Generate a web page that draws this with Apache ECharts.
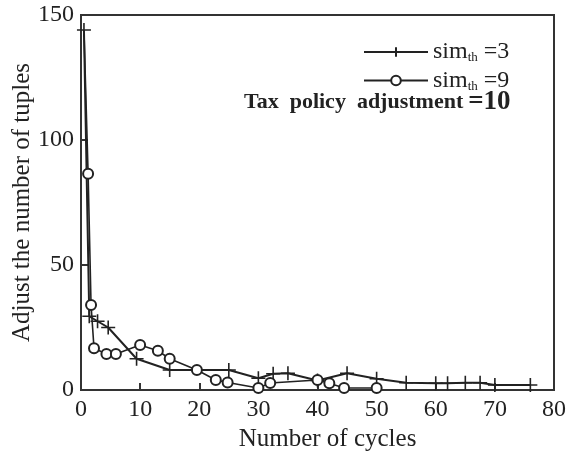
<!DOCTYPE html>
<html><head><meta charset="utf-8">
<script src="https://cdn.jsdelivr.net/npm/echarts@6/dist/echarts.min.js"></script>
<style>html,body{margin:0;padding:0;background:#fff}#c{width:566px;height:452px}</style>
</head><body><div id="c"></div>
<script>
// sim_th = 3 (cross markers)
const crossX = [0.5, 1.4, 2.8, 4.6, 9.4, 15, 25, 30, 32.5, 35, 40, 45, 50, 55, 60, 62, 65, 67.5, 70, 76];
const crossY = [144, 29.5, 27.5, 25, 12.5, 8, 8, 4.7, 6.5, 6.7, 3.8, 6.7, 4.5, 2.9, 2.7, 2.7, 2.9, 2.9, 2, 2];
// sim_th = 9 (circle markers)
const circX = [0.5, 1.2, 1.7, 2.2, 4.3, 5.9, 10, 13, 15, 19.6, 22.8, 24.8, 30, 32, 40, 42, 44.5, 50];
const circY = [144, 86.5, 34, 16.7, 14.4, 14.4, 18, 15.7, 12.5, 8, 4, 3, 0.8, 2.8, 4, 2.7, 0.8, 0.8];
const xTicks = [0, 10, 20, 30, 40, 50, 60, 70, 80];
const yTicks = [0, 50, 100, 150];
const seriesNames = ['sim_th =3', 'sim_th =9'];

const font = 'Liberation Serif';
const ink = '#222';
const chart = echarts.init(document.getElementById('c'));
const pair = (xs, ys) => xs.map((x, i) => [x, ys[i]]);
const circData = pair(circX, circY).map((p, i) => i === 0 ? {value: p, symbol: 'none'} : p);

chart.setOption({
  animation: false,
  backgroundColor: '#fff',
  grid: {left: 81, top: 15, width: 473, height: 375, outerBoundsMode: 'none', containLabel: false,
         show: true, borderColor: '#333', borderWidth: 2, backgroundColor: 'transparent'},
  title: {
    text: '{b|Tax  policy  adjustment} {n|=10}',
    left: 239, top: 84,
    textStyle: {rich: {
      b: {fontFamily: font, fontWeight: 'bold', fontSize: 22, color: ink},
      n: {fontFamily: font, fontSize: 27, color: ink}
    }}
  },
  legend: {
    orient: 'vertical', left: 358, top: 35, itemWidth: 64, itemHeight: 12, itemGap: 4,
    data: seriesNames,
    formatter: n => '{a|sim}{s|th}{a|' + n.split(' ')[1] + '}',
    textStyle: {rich: {
      a: {fontFamily: font, fontSize: 24, color: ink},
      s: {fontFamily: font, fontSize: 13, color: ink, padding: [12, 6, 0, 0]}
    }}
  },
  xAxis: {
    type: 'value', min: xTicks[0], max: xTicks[xTicks.length - 1], interval: 10,
    name: 'Number of cycles', nameLocation: 'middle', nameGap: 36,
    nameTextStyle: {fontFamily: font, fontSize: 25, color: ink, padding: [0, 0, 0, 20]},
    axisLine: {show: true, lineStyle: {color: '#333', width: 2}},
    axisTick: {show: true, inside: true, length: 7, lineStyle: {color: '#333', width: 2}},
    axisLabel: {fontFamily: font, fontSize: 24, color: ink, margin: 8, showMinLabel: true, showMaxLabel: true},
    splitLine: {show: false}
  },
  yAxis: {
    type: 'value', min: yTicks[0], max: yTicks[yTicks.length - 1], interval: 50,
    name: 'Adjust the number of tuples', nameLocation: 'middle', nameGap: 46, nameMoveOverlap: false,
    nameTextStyle: {fontFamily: font, fontSize: 25, color: ink},
    axisLine: {show: true, lineStyle: {color: '#333', width: 2}},
    axisTick: {show: true, inside: true, length: 7, lineStyle: {color: '#333', width: 2}},
    axisLabel: {fontFamily: font, fontSize: 24, color: ink, margin: 7},
    splitLine: {show: false}
  },
  series: [
    {
      name: seriesNames[0], type: 'line', data: pair(crossX, crossY),
      symbol: 'path://M0,7L14,7M7,0L7,14', symbolSize: 14,
      lineStyle: {color: ink, width: 2},
      itemStyle: {color: ink, borderColor: ink, borderWidth: 1.6}
    },
    {
      name: seriesNames[1], type: 'line', data: circData,
      symbol: 'emptyCircle', symbolSize: 10,
      lineStyle: {color: ink, width: 1.6},
      itemStyle: {color: ink, borderColor: ink, borderWidth: 1.8}
    }
  ]
});
</script></body></html>
